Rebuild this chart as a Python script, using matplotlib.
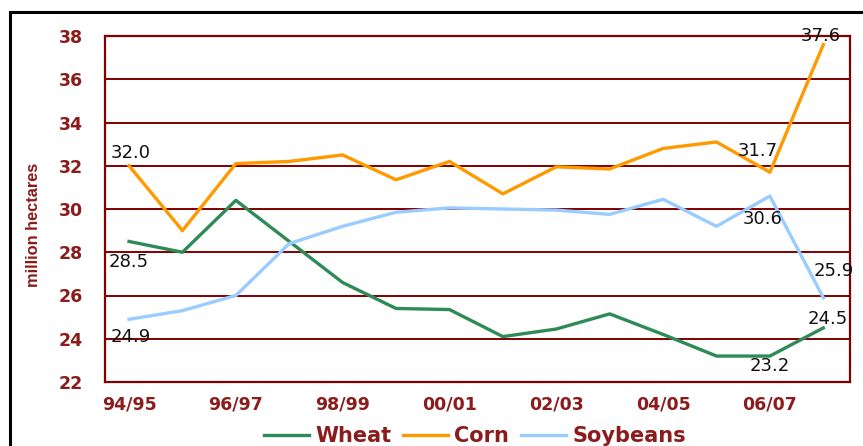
import matplotlib
matplotlib.use("Agg")
import matplotlib.pyplot as plt
from matplotlib.patches import Rectangle
from matplotlib.lines import Line2D

seasons = ["94/95", "95/96", "96/97", "97/98", "98/99", "99/00", "00/01",
           "01/02", "02/03", "03/04", "04/05", "05/06", "06/07", "07/08"]
wheat = [28.5, 28.0, 30.4, 28.5, 26.6, 25.4, 25.35, 24.1, 24.45, 25.15, 24.2, 23.2, 23.2, 24.5]
corn = [32.0, 29.0, 32.1, 32.2, 32.5, 31.35, 32.2, 30.7, 31.95, 31.85, 32.8, 33.1, 31.7, 37.6]
soybeans = [24.9, 25.3, 26.0, 28.4, 29.2, 29.85, 30.05, 30.0, 29.95, 29.75, 30.45, 29.2, 30.6, 25.9]
y_ticks = [22, 24, 26, 28, 30, 32, 34, 36, 38]

DARK_RED = "#8b1c1c"
GRID_RED = "#800000"
C_WHEAT = "#2e8b57"
C_CORN = "#ff9900"
C_SOY = "#99ccff"

fig = plt.figure(figsize=(8.63, 4.46), dpi=100)
W, H = 863, 446
ax = fig.add_axes([105 / W, 1 - 382 / H, (850 - 105) / W, (382 - 36) / H])

# outer frame of the chart area
fig.patches.append(Rectangle((10 / W, -0.05), 1.0, 1 - 12 / H + 0.05,
                             transform=fig.transFigure, fill=False,
                             edgecolor="black", linewidth=2.2, zorder=0))

x = list(range(len(seasons)))
ax.plot(x, wheat, color=C_WHEAT, lw=2.4, label="Wheat", zorder=3)
ax.plot(x, corn, color=C_CORN, lw=2.4, label="Corn", zorder=3)
ax.plot(x, soybeans, color=C_SOY, lw=2.4, label="Soybeans", zorder=3)

ax.set_xlim(-0.45, 13.5)
ax.set_ylim(22, 38)
ax.set_yticks(y_ticks)
ax.set_xticks(x[::2])
ax.set_xticklabels(seasons[::2])
ax.tick_params(axis="both", length=0, colors=DARK_RED, labelsize=12.5)
ax.tick_params(axis="y", pad=16)
ax.tick_params(axis="x", pad=10)
for lab in ax.get_xticklabels() + ax.get_yticklabels():
    lab.set_fontweight("bold")
ax.grid(axis="y", color=GRID_RED, lw=1.4, zorder=1)
for s in ax.spines.values():
    s.set_color(GRID_RED)
    s.set_linewidth(1.6)

fig.text(33 / W, 1 - 225 / H, "million hectares", rotation=90, ha="center", va="center",
         color=DARK_RED, fontsize=11.8, fontweight="bold", family="Liberation Sans")

# value labels
lab_kw = dict(fontsize=13, color="#111111", zorder=4)
ax.annotate(f"{corn[0]:.1f}", (0, corn[0]), xytext=(-18, 4), textcoords="offset pixels",
            ha="left", va="bottom", **lab_kw)
ax.annotate(f"{wheat[0]:.1f}", (0, wheat[0]), xytext=(-20, -12), textcoords="offset pixels",
            ha="left", va="top", **lab_kw)
ax.annotate(f"{soybeans[0]:.1f}", (0, soybeans[0]), xytext=(-18, -9), textcoords="offset pixels",
            ha="left", va="top", **lab_kw)
ax.annotate(f"{corn[12]:.1f}", (12, corn[12]), xytext=(8, 12), textcoords="offset pixels",
            ha="right", va="bottom", **lab_kw)
ax.annotate(f"{corn[13]:.1f}", (13, corn[13]), xytext=(-3, 0), textcoords="offset pixels",
            ha="center", va="bottom", **lab_kw)
ax.annotate(f"{soybeans[12]:.1f}", (12, soybeans[12]), xytext=(-7, -14), textcoords="offset pixels",
            ha="center", va="top", **lab_kw)
ax.annotate(f"{soybeans[13]:.1f}", (13, soybeans[13]), xytext=(10, 18), textcoords="offset pixels",
            ha="center", va="bottom", **lab_kw)
ax.annotate(f"{wheat[13]:.1f}", (13, wheat[13]), xytext=(4, 0), textcoords="offset pixels",
            ha="center", va="bottom", **lab_kw)
ax.annotate(f"{wheat[12]:.1f}", (12, wheat[12]), xytext=(0, -1), textcoords="offset pixels",
            ha="center", va="top", **lab_kw)

handles = [Line2D([], [], color=c, lw=2.4) for c in (C_WHEAT, C_CORN, C_SOY)]
leg = fig.legend(handles, ["Wheat", "Corn", "Soybeans"], loc="center",
                 bbox_to_anchor=(475 / W, 1 - 436 / H), ncol=3, frameon=False,
                 handlelength=2.16, handletextpad=0.3, columnspacing=0.58,
                 prop=dict(size=15, weight="bold"))
for t in leg.get_texts():
    t.set_color(DARK_RED)

fig.savefig("out.png", dpi=100)
